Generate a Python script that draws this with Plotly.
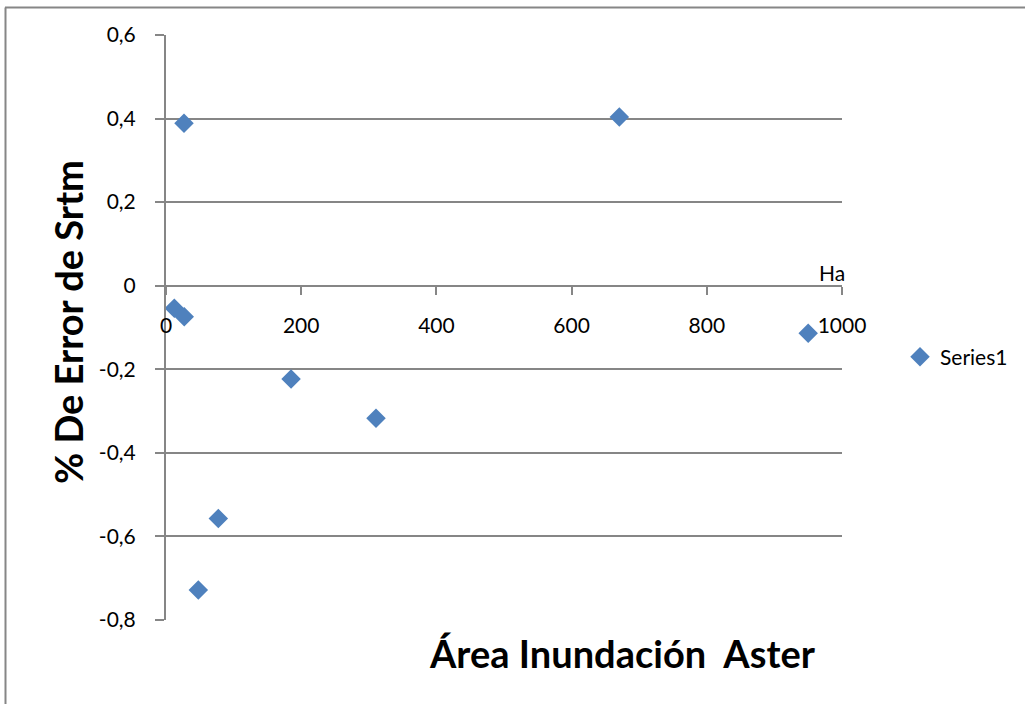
import plotly.graph_objects as go

area_ha = [26.6, 12.3, 27.0, 77.4, 47.8, 185.0, 310.7, 670.6, 950.0]
error_pct = [0.389, -0.054, -0.074, -0.557, -0.728, -0.223, -0.317, 0.404, -0.114]
series_name = "Series1"
y_ticks = [0.6, 0.4, 0.2, 0, -0.2, -0.4, -0.6, -0.8]
y_tick_labels = ["0,6", "0,4", "0,2", "0", "-0,2", "-0,4", "-0,6", "-0,8"]
x_ticks = [0, 200, 400, 600, 800, 1000]
x_tick_labels = ["0", "200", "400", "600", "800", "1000"]

W, H = 1025, 704
L, R, T, B = 166, 842, 35, 620

font = "Lato, 'Open Sans', sans-serif"
grid = "#868686"

fig = go.Figure()
fig.add_trace(go.Scatter(
    x=area_ha, y=error_pct, mode="markers", name=series_name,
    marker=dict(symbol="diamond", size=15, color="#4F81BD"),
))

y0_pos = (0 - (-0.8)) / (0.6 - (-0.8))

fig.update_layout(
    width=W, height=H,
    margin=dict(l=L, r=W - R, t=T, b=H - B, autoexpand=False),
    paper_bgcolor="white", plot_bgcolor="white",
    showlegend=True,
    legend=dict(x=(900 - L) / (R - L), y=(B - 357) / (B - T), xanchor="left", yanchor="middle",
                font=dict(family=font, size=21, color="black"), itemwidth=30),
    xaxis=dict(range=[0, 1000], tickvals=x_ticks, ticktext=x_tick_labels,
               anchor="free", position=y0_pos, showgrid=False, zeroline=False,
               showline=True, linecolor=grid, linewidth=2,
               ticks="outside", ticklen=8, tickcolor=grid, tickwidth=2,
               ticklabelstandoff=13,
               tickfont=dict(family=font, size=21, color="black")),
    yaxis=dict(range=[-0.8, 0.6], tickvals=y_ticks, ticktext=y_tick_labels,
               showgrid=True, gridcolor=grid, gridwidth=2, zeroline=False,
               showline=True, linecolor=grid, linewidth=2,
               ticks="outside", ticklen=9, tickcolor=grid, tickwidth=2,
               ticklabelstandoff=15,
               tickfont=dict(family=font, size=21, color="black")),
    shapes=[
        dict(type="line", xref="paper", yref="paper",
             x0=(5 - L) / (R - L), x1=(W - L) / (R - L),
             y0=(B - 7.5) / (B - T), y1=(B - 7.5) / (B - T),
             line=dict(color=grid, width=2)),
        dict(type="line", xref="paper", yref="paper",
             x0=(5.5 - L) / (R - L), x1=(5.5 - L) / (R - L),
             y0=(B - 7.5) / (B - T), y1=(B - H - 5) / (B - T),
             line=dict(color=grid, width=2)),
    ],
    annotations=[
        dict(text="% De Error de Srtm", textangle=-90, xref="paper", yref="paper",
             x=(68 - L) / (R - L), y=(B - 322) / (B - T), xanchor="center", yanchor="middle",
             showarrow=False, font=dict(family=font, size=38, color="black", weight="bold")),
        dict(text="Área Inundación  Aster", xref="paper", yref="paper",
             x=(622 - L) / (R - L), y=(B - 653) / (B - T), xanchor="center", yanchor="middle",
             showarrow=False, font=dict(family=font, size=38, color="black", weight="bold")),
        dict(text="Ha", xref="paper", yref="paper",
             x=(832 - L) / (R - L), y=(B - 272) / (B - T), xanchor="center", yanchor="middle",
             showarrow=False, font=dict(family=font, size=21, color="black")),
    ],
)

fig.write_html("out.html")
